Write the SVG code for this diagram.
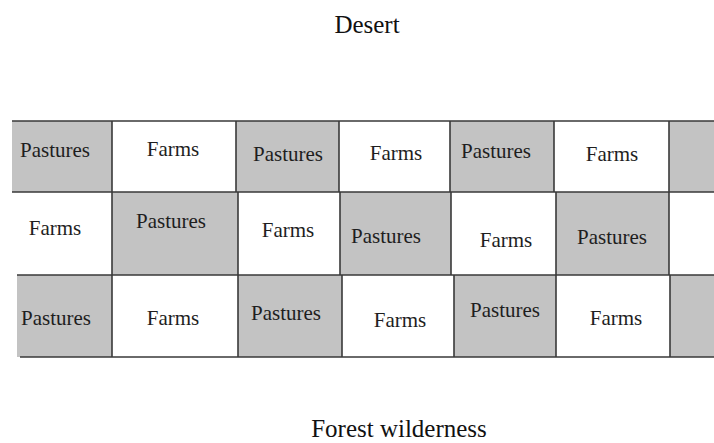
<svg xmlns="http://www.w3.org/2000/svg" width="714" height="443" viewBox="0 0 714 443">
<style>
.p{fill:#c3c3c3}
.f{fill:#ffffff}
.t{font-family:"Liberation Serif","Times New Roman",serif;font-size:21px;fill:#1e1e1e;text-anchor:middle}
.h{font-family:"Liberation Serif","Times New Roman",serif;font-size:25px;fill:#111;text-anchor:middle}
.g{stroke:#3a3a3a;stroke-width:1.6;fill:none}
</style>
<rect width="714" height="443" fill="#fff"/>
<g id="desert"><text class="h" x="367" y="33">Desert</text></g>
<g id="forest"><text class="h" x="399" y="437">Forest wilderness</text></g>

<g id="r1c1"><rect class="p" x="12" y="121" width="100" height="71"/><text class="t" x="55" y="157">Pastures</text></g>
<g id="r1c2"><rect class="f" x="112" y="121" width="124" height="71"/><text class="t" x="173" y="156">Farms</text></g>
<g id="r1c3"><rect class="p" x="236" y="121" width="103" height="71"/><text class="t" x="288" y="161">Pastures</text></g>
<g id="r1c4"><rect class="f" x="339" y="121" width="111" height="71"/><text class="t" x="396" y="160">Farms</text></g>
<g id="r1c5"><rect class="p" x="450" y="121" width="104" height="71"/><text class="t" x="496" y="158">Pastures</text></g>
<g id="r1c6"><rect class="f" x="554" y="121" width="115" height="71"/><text class="t" x="612" y="161">Farms</text></g>
<g id="r1c7"><rect class="p" x="669" y="121" width="45" height="71"/></g>

<g id="r2c1"><rect class="f" x="12" y="192" width="100" height="83"/><text class="t" x="55" y="235">Farms</text></g>
<g id="r2c2"><rect class="p" x="112" y="192" width="126" height="83"/><text class="t" x="171" y="228">Pastures</text></g>
<g id="r2c3"><rect class="f" x="238" y="192" width="102" height="83"/><text class="t" x="288" y="237">Farms</text></g>
<g id="r2c4"><rect class="p" x="340" y="192" width="111" height="83"/><text class="t" x="386" y="243">Pastures</text></g>
<g id="r2c5"><rect class="f" x="451" y="192" width="105" height="83"/><text class="t" x="506" y="247">Farms</text></g>
<g id="r2c6"><rect class="p" x="556" y="192" width="113" height="83"/><text class="t" x="612" y="244">Pastures</text></g>

<g id="r3c1"><rect class="p" x="17" y="275" width="95" height="82"/><text class="t" x="56" y="325">Pastures</text></g>
<g id="r3c2"><rect class="f" x="112" y="275" width="126" height="82"/><text class="t" x="173" y="325">Farms</text></g>
<g id="r3c3"><rect class="p" x="238" y="275" width="104" height="82"/><text class="t" x="286" y="320">Pastures</text></g>
<g id="r3c4"><rect class="f" x="342" y="275" width="112" height="82"/><text class="t" x="400" y="327">Farms</text></g>
<g id="r3c5"><rect class="p" x="454" y="275" width="102" height="82"/><text class="t" x="505" y="317">Pastures</text></g>
<g id="r3c6"><rect class="f" x="556" y="275" width="114" height="82"/><text class="t" x="616" y="325">Farms</text></g>
<g id="r3c7"><rect class="p" x="670" y="275" width="44" height="82"/></g>

<g id="connectors" class="g">
<path d="M12 121H714M12 192H714M17 275H714M20 357H714"/>
<path d="M112 121V192M236 121V192M339 121V192M450 121V192M554 121V192M669 121V192"/>
<path d="M112 192V275M238 192V275M340 192V275M451 192V275M556 192V275M669 192V275"/>
<path d="M112 275V357M238 275V357M342 275V357M454 275V357M556 275V357M670 275V357"/>
</g>
</svg>
